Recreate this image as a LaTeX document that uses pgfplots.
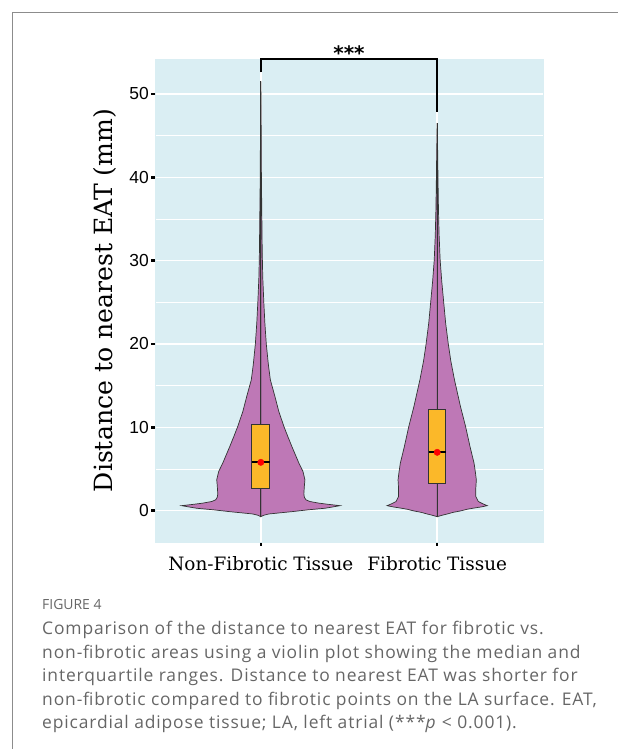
\documentclass[border=0pt]{standalone}
\usepackage{pgfplots}
\pgfplotsset{compat=1.18}
\usepackage{pgfplotstable}
\usepackage{fontspec}
\setmainfont{DejaVu Serif}
\newfontfamily\ticksans{Liberation Sans}
\newfontfamily\capfont{Open Sans}[LetterSpace=5]
\newfontfamily\figfont{Open Sans}
\newfontfamily\starfont{DejaVu Sans}
\definecolor{panelbg}{HTML}{DAEEF3}
\definecolor{violinfill}{HTML}{BE78B6}
\definecolor{boxfill}{HTML}{FBB829}
\definecolor{outline}{HTML}{333333}
\definecolor{framegray}{HTML}{8C8C8C}
\definecolor{capgray}{HTML}{666666}

% violin half-widths (w, in x units) at values v
\pgfplotstableread{
v w
-0.72 0
-0.55 0.017
-0.40 0.045
-0.25 0.114
-0.12 0.176
0.10 0.267
0.29 0.364
0.45 0.409
0.60 0.449
0.75 0.386
0.90 0.330
1.10 0.278
1.30 0.256
1.60 0.247
2.00 0.244
3.00 0.247
3.70 0.250
4.70 0.239
5.70 0.216
6.70 0.196
7.70 0.176
8.90 0.153
10.1 0.131
11.9 0.102
13.7 0.080
15.7 0.054
17.5 0.043
20.0 0.031
22.5 0.023
25.0 0.017
28.0 0.011
31.0 0.008
35.0 0.006
40.0 0.0034
45.0 0.0023
51.5 0
}\nonfib

\pgfplotstableread{
v w
-0.72 0
-0.55 0.028
-0.40 0.057
-0.20 0.091
-0.04 0.131
0.17 0.170
0.30 0.205
0.45 0.250
0.60 0.284
0.80 0.261
1.10 0.233
1.70 0.219
2.70 0.219
3.70 0.222
4.70 0.216
5.70 0.209
7.70 0.186
10.1 0.161
12.5 0.132
15.7 0.098
18.0 0.077
20.0 0.063
22.5 0.048
25.0 0.037
27.5 0.026
30.0 0.017
33.0 0.011
36.0 0.0074
40.0 0.0045
43.0 0.0028
46.5 0
}\fib

\begin{document}
\begin{tikzpicture}[x=1bp,y=1bp]
\useasboundingbox (0,0) rectangle (618,749);
\draw[framegray, line width=1.5bp] (12.5,0) -- (12.5,736.5) -- (618,736.5);
\begin{axis}[
  at={(155bp,207bp)}, anchor=south west,
  scale only axis, width=388bp, height=483bp,
  xmin=0.4, xmax=2.6, ymin=-3.76, ymax=54.2,
  clip=false,
  axis background/.style={fill=panelbg},
  axis line style={draw=panelbg, line width=0.1bp},
  xtick={1,2}, xticklabels={Non-Fibrotic Tissue, Fibrotic Tissue},
  ytick={0,10,20,30,40,50}, yticklabels={0,10,20,30,40,50},
  minor ytick={5,15,25,35,45},
  xmajorgrids, ymajorgrids, yminorgrids,
  major grid style={white, line width=1.4bp},
  minor grid style={white, line width=0.7bp},
  tick align=outside, xtick pos=bottom, ytick pos=left,
  major tick length=4bp, minor tick length=0pt,
  major tick style={draw=black, line width=2.4bp},
  xticklabel style={font=\fontsize{18.5}{20}\selectfont, anchor=north, inner sep=0pt, yshift=-10bp},
  yticklabel style={font=\ticksans\fontsize{17.5}{19}\selectfont, anchor=east, inner sep=0pt, xshift=-2bp},
  ylabel={Distance to nearest EAT (mm)},
  ylabel style={font=\fontsize{25.2}{27}\selectfont, at={(axis description cs:-0.098,0.5)}, anchor=south, inner sep=0pt},
]
% violins: right and left halves
\addplot[fill=violinfill, draw=outline, line width=0.7bp] table[x expr=1+\thisrow{w}, y=v] {\nonfib} --cycle;
\addplot[fill=violinfill, draw=outline, line width=0.7bp] table[x expr=1-\thisrow{w}, y=v] {\nonfib} --cycle;
\addplot[fill=violinfill, draw=outline, line width=0.7bp] table[x expr=2+\thisrow{w}, y=v] {\fib} --cycle;
\addplot[fill=violinfill, draw=outline, line width=0.7bp] table[x expr=2-\thisrow{w}, y=v] {\fib} --cycle;
% whiskers
\addplot[outline, line width=0.8bp] coordinates {(1,-0.72) (1,51.5)};
\addplot[outline, line width=0.8bp] coordinates {(2,-0.72) (2,46.5)};
% boxes (Q1, Q3)
\addplot[fill=boxfill, draw=outline, line width=0.8bp] coordinates {(0.949,2.64) (1.051,2.64) (1.051,10.4) (0.949,10.4)} --cycle;
\addplot[fill=boxfill, draw=outline, line width=0.8bp] coordinates {(1.951,3.3) (2.049,3.3) (2.049,12.2) (1.951,12.2)} --cycle;
% medians
\addplot[black, line width=2.2bp] coordinates {(0.949,5.8) (1.051,5.8)};
\addplot[black, line width=2.2bp] coordinates {(1.951,7.05) (2.049,7.05)};
% means
\addplot[only marks, mark=*, mark size=3.2bp, color=red, fill=red] coordinates {(1,5.8) (2,7.0)};
% significance bracket
\addplot[black, line width=2bp] coordinates {(1,52.6) (1,54.2) (2,54.2) (2,47.8)};
\node[font=\starfont\bfseries\fontsize{20}{20}\selectfont, anchor=base, inner sep=0pt] at (axis cs:1.5,54.0) {***};
\end{axis}
\node[anchor=base west, inner sep=0pt, font=\figfont\fontsize{14}{16}\selectfont, text=capgray] at (42,139) {FIGURE 4};
\begin{scope}[every node/.style={anchor=base west, inner sep=0pt, font=\capfont\fontsize{17.5}{19}\selectfont, text=capgray}]
\node at (42,114.2) {Comparison of the distance to nearest EAT for fibrotic vs.};
\node at (42,90.7) {non-fibrotic areas using a violin plot showing the median and};
\node at (42,67.1) {interquartile ranges. Distance to nearest EAT was shorter for};
\node at (42,43.6) {non-fibrotic compared to fibrotic points on the LA surface. EAT,};
\node at (42,20.0) {epicardial adipose tissue; LA, left atrial (***\textit{p} < 0.001).};
\end{scope}
\end{tikzpicture}
\end{document}
